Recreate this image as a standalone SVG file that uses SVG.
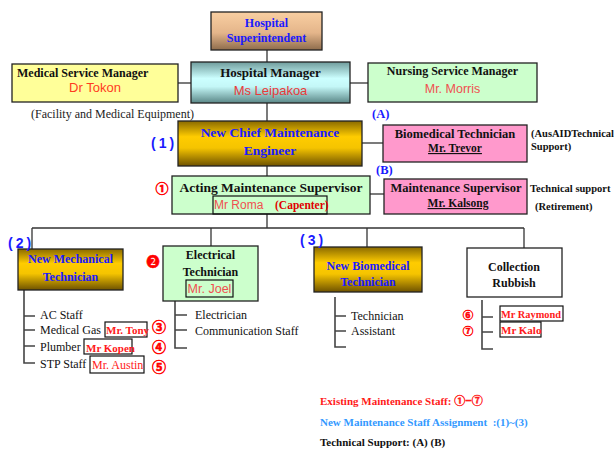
<svg xmlns="http://www.w3.org/2000/svg" width="614" height="450" viewBox="0 0 614 450">
  <style>
    .box { stroke: #222; stroke-width: 1.3; }
    .ln { stroke: #333; stroke-width: 1.3; fill: none; }
    .sub { stroke: #444; stroke-width: 1.6; fill: none; }
    .tb { font-family: "Liberation Serif", "Times New Roman", serif; font-weight: bold; }
    .tr { font-family: "Liberation Serif", "Times New Roman", serif; }
    .ss { font-family: "Liberation Sans", Arial, sans-serif; }
    .blue { fill: #1a1aff; }
    .red { fill: #ff2a2a; }
    .blk { fill: #111; }
    .circ { font-family: "Noto Sans CJK JP", "DejaVu Sans", sans-serif; font-weight: bold; fill: #ff0000; stroke: #ff0000; stroke-width: 0.5; text-anchor: middle; }
    .mid { text-anchor: middle; }
    .tag { fill: none; stroke: #111; stroke-width: 1.2; }
  </style>
  <defs>
    <linearGradient id="gTan" x1="0" y1="0" x2="0" y2="1">
      <stop offset="0" stop-color="#f9cfa2"/>
      <stop offset="0.55" stop-color="#e4b58a"/>
      <stop offset="1" stop-color="#8e6c4c"/>
    </linearGradient>
    <linearGradient id="gCyan" x1="0" y1="0" x2="0" y2="1">
      <stop offset="0" stop-color="#6f9c9c"/>
      <stop offset="0.4" stop-color="#ccffff"/>
      <stop offset="0.6" stop-color="#c4f7f7"/>
      <stop offset="1" stop-color="#5a8787"/>
    </linearGradient>
    <linearGradient id="gGold" x1="0" y1="0" x2="0" y2="1">
      <stop offset="0" stop-color="#8a6a00"/>
      <stop offset="0.35" stop-color="#ffcc00"/>
      <stop offset="0.6" stop-color="#f5c400"/>
      <stop offset="1" stop-color="#6e5200"/>
    </linearGradient>
  </defs>

  <rect width="614" height="450" fill="#fff"/>

  <!-- connectors -->
  <g id="connectors">
    <line class="ln" x1="267" y1="50" x2="267" y2="228"/>
    <line class="ln" x1="178" y1="83" x2="191" y2="83"/>
    <line class="ln" x1="350" y1="83" x2="368" y2="83"/>
    <line class="ln" x1="362" y1="143" x2="383" y2="143"/>
    <line class="ln" x1="370" y1="194" x2="384" y2="194"/>
    <line class="ln" x1="32" y1="228" x2="524" y2="228"/>
    <line class="ln" x1="32" y1="228" x2="32" y2="249"/>
    <line class="ln" x1="211" y1="228" x2="211" y2="246"/>
    <line class="ln" x1="367" y1="228" x2="367" y2="247"/>
    <line class="ln" x1="524" y1="228" x2="524" y2="248"/>
    <!-- staff brackets -->
    <path class="sub" d="M24 290V363H35M24 316H35M24 330H35M24 346H35"/>
    <path class="sub" d="M175 301V348H187M175 315H187M175 330H187"/>
    <path class="sub" d="M335 297V347H346M335 316H346M335 331H346"/>
    <path class="sub" d="M482 300V349H493M482 317H493M482 332H493"/>
  </g>

  <g id="superintendent">
    <rect class="box" x="211" y="12" width="111" height="38" fill="url(#gTan)"/>
    <text class="tb blue mid" x="266.5" y="27" font-size="12">Hospital</text>
    <text class="tb blue mid" x="266.5" y="42" font-size="12">Superintendent</text>
  </g>

  <g id="hospital-manager">
    <rect class="box" x="191" y="62" width="159" height="41" fill="url(#gCyan)"/>
    <text class="tb blk mid" x="270.5" y="77" font-size="13">Hospital Manager</text>
    <text class="ss mid" x="270.5" y="95" font-size="13" fill="#e83a3a">Ms Leipakoa</text>
  </g>

  <g id="medical-service-manager">
    <rect class="box" x="12" y="64" width="166" height="38" fill="#ffff99"/>
    <text class="tb blk" x="17" y="77" font-size="12">Medical Service Manager</text>
    <text class="ss mid" x="95" y="92" font-size="13" fill="#ff3b1f">Dr Tokon</text>
  </g>

  <g id="nursing-service-manager">
    <rect class="box" x="368" y="63" width="169" height="39" fill="#ccffcc"/>
    <text class="tb blk mid" x="452.5" y="75" font-size="12">Nursing Service Manager</text>
    <text class="ss mid" x="452.5" y="93" font-size="12.5" fill="#f05050">Mr. Morris</text>
  </g>

  <text class="tr" x="31" y="118" font-size="12" fill="#222">(Facility and Medical Equipment)</text>

  <g id="chief-engineer">
    <rect class="box" x="178" y="121" width="184" height="45" fill="url(#gGold)"/>
    <text class="tb blue mid" x="270" y="137" font-size="13.5">New Chief Maintenance</text>
    <text class="tb blue mid" x="270" y="155" font-size="13.5">Engineer</text>
    <text class="ss blue" x="151" y="148" font-size="14" font-weight="bold" letter-spacing="3">(1)</text>
  </g>

  <g id="biomedical-technician">
    <rect class="box" x="383" y="125" width="144" height="37" fill="#ff99cc"/>
    <text class="tb blk mid" x="455" y="138" font-size="12.5">Biomedical Technician</text>
    <text class="tb blk mid" x="455" y="152" font-size="11.5" text-decoration="underline">Mr. Trevor</text>
    <text class="tb blue" x="372" y="118" font-size="12.5">(A)</text>
    <text class="tb blk" x="531" y="137" font-size="10.5">(AusAIDTechnical</text>
    <text class="tb blk" x="531" y="150" font-size="10.5">Support)</text>
  </g>

  <g id="acting-supervisor">
    <rect class="box" x="172" y="176" width="198" height="38" fill="#ccffcc"/>
    <text class="tb blk mid" x="271" y="192" font-size="13.5">Acting Maintenance Supervisor</text>
    <rect class="tag" x="213" y="196" width="114" height="18"/>
    <text class="ss" x="214" y="209" font-size="12" fill="#f05050">Mr Roma</text>
    <text class="tb" x="275" y="209" font-size="11.5" fill="#e00000">(Capenter)</text>
    <text class="circ" x="162" y="193" font-size="13">①</text>
  </g>

  <g id="maintenance-supervisor">
    <rect class="box" x="384" y="179" width="143" height="35" fill="#ff99cc"/>
    <text class="tb blk mid" x="456" y="192" font-size="12.5">Maintenance Supervisor</text>
    <text class="tb blk mid" x="458" y="207" font-size="11.5" text-decoration="underline">Mr. Kalsong</text>
    <text class="tb blue" x="376" y="174" font-size="12.5">(B)</text>
    <text class="tb blk" x="530" y="192" font-size="10.5">Technical support</text>
    <text class="tb blk" x="535" y="210" font-size="10.5">(Retirement)</text>
  </g>

  <g id="mechanical-technician">
    <rect class="box" x="18" y="249" width="105" height="41" fill="url(#gGold)"/>
    <text class="tb blue mid" x="70.5" y="263" font-size="12">New Mechanical</text>
    <text class="tb blue mid" x="70.5" y="281" font-size="12">Technician</text>
    <text class="ss blue" x="8" y="248" font-size="14" font-weight="bold" letter-spacing="3">(2)</text>
    <text class="tr blk" x="40" y="319" font-size="12">AC Staff</text>
    <text class="tr blk" x="40" y="334" font-size="12">Medical Gas</text>
    <text class="tr blk" x="40" y="351" font-size="12">Plumber</text>
    <text class="tr blk" x="40" y="368" font-size="12">STP Staff</text>
    <rect class="tag" x="105" y="322" width="42" height="15"/>
    <text class="tb" x="106" y="334" font-size="11" fill="#ff1a1a">Mr. Tony</text>
    <rect class="tag" x="84" y="339" width="48" height="15"/>
    <text class="tb" x="86" y="352" font-size="11" fill="#ff1a1a">Mr Kopen</text>
    <rect class="tag" x="90" y="356" width="54" height="17"/>
    <text class="tr" x="92" y="369" font-size="12" fill="#ff1a1a">Mr. Austin</text>
    <text class="circ" x="159" y="332" font-size="14">③</text>
    <text class="circ" x="159" y="352" font-size="14">④</text>
    <text class="circ" x="159" y="372" font-size="14">⑤</text>
  </g>

  <g id="electrical-technician">
    <rect class="box" x="163" y="246" width="95" height="55" fill="#ccffcc"/>
    <text class="tb blk mid" x="210.5" y="259" font-size="12">Electrical</text>
    <text class="tb blk mid" x="210.5" y="276" font-size="12">Technician</text>
    <rect class="tag" x="186" y="280" width="47" height="17"/>
    <text class="ss mid" x="209.5" y="293" font-size="12.5" fill="#f05050">Mr. Joel</text>
    <text class="circ" x="153" y="266" font-size="13" stroke-width="0" font-family="'DejaVu Sans', sans-serif">❷</text>
    <text class="tr blk" x="195" y="319" font-size="12">Electrician</text>
    <text class="tr blk" x="195" y="335" font-size="12">Communication Staff</text>
  </g>

  <g id="biomedical-new">
    <rect class="box" x="314" y="247" width="108" height="45" fill="url(#gGold)"/>
    <text class="tb blue mid" x="368" y="270" font-size="12">New Biomedical</text>
    <text class="tb blue mid" x="368" y="286" font-size="12">Technician</text>
    <text class="ss blue" x="300" y="245" font-size="14" font-weight="bold" letter-spacing="3">(3)</text>
    <text class="tr blk" x="351" y="320" font-size="12">Technician</text>
    <text class="tr blk" x="351" y="335" font-size="12">Assistant</text>
  </g>

  <g id="collection-rubbish">
    <rect class="box" x="467" y="248" width="95" height="49" fill="#fff"/>
    <text class="tb blk mid" x="514" y="271" font-size="12">Collection</text>
    <text class="tb blk mid" x="514" y="287" font-size="12">Rubbish</text>
    <rect class="tag" x="500" y="306" width="63" height="15"/>
    <text class="tb" x="501" y="318" font-size="11" fill="#ff1a1a" textLength="60" lengthAdjust="spacingAndGlyphs">Mr Raymond</text>
    <rect class="tag" x="500" y="322" width="41" height="15"/>
    <text class="tb" x="501" y="334" font-size="11" fill="#ff1a1a">Mr Kalo</text>
    <text class="circ" x="468" y="319" font-size="10.5">⑥</text>
    <text class="circ" x="468" y="335" font-size="10.5">⑦</text>
  </g>

  <g id="legend">
    <text class="tb" x="320" y="405" font-size="11" fill="#ff1a1a">Existing Maintenance Staff: <tspan font-family="'Noto Sans CJK JP', sans-serif" stroke="#ff1a1a" stroke-width="0.4">①−⑦</tspan></text>
    <text class="tb" x="320" y="426" font-size="11" fill="#3399ff" xml:space="preserve">New Maintenance Staff Assignment  :(1)~(3)</text>
    <text class="tb blk" x="320" y="446" font-size="11">Technical Support: (A) (B)</text>
  </g>
</svg>
